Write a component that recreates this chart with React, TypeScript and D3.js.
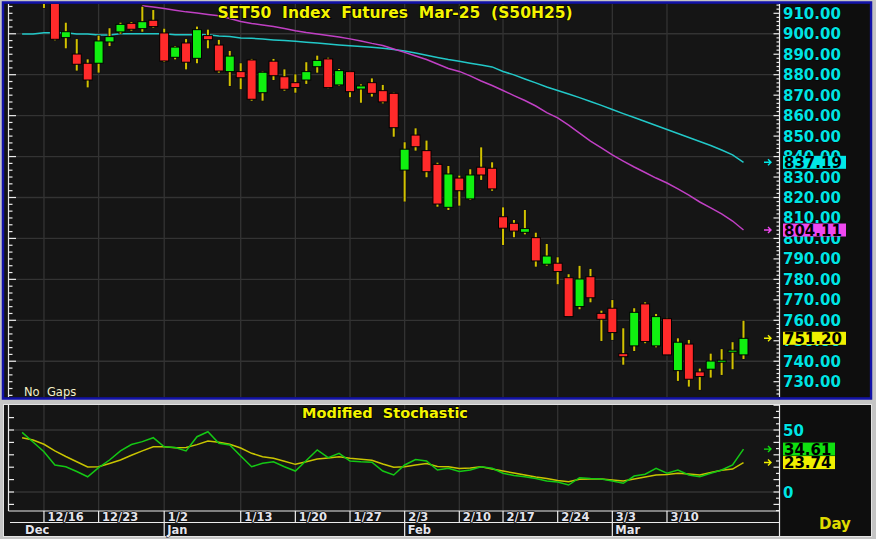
import React, { useEffect, useRef } from 'react';
import * as d3 from 'd3';

// trading days shown on the chart (first two only carry indicator values)
const days = [
  '12/12', '12/13', '12/16', '12/17', '12/18', '12/19', '12/20', '12/23', '12/24', '12/25', '12/26', '12/27', '12/30',
  '1/2', '1/3', '1/6', '1/7', '1/8', '1/9', '1/10', '1/13', '1/14', '1/15', '1/16', '1/17', '1/20', '1/21', '1/22',
  '1/23', '1/24', '1/27', '1/28', '1/29', '1/30', '1/31', '2/3', '2/4', '2/5', '2/6', '2/7', '2/10', '2/11', '2/13',
  '2/14', '2/17', '2/18', '2/19', '2/20', '2/21', '2/24', '2/25', '2/26', '2/27', '2/28', '3/3', '3/4', '3/5', '3/6',
  '3/7', '3/10', '3/11', '3/12', '3/13', '3/14', '3/17', '3/18', '3/19',
];
const candleDays = days.slice(2);

const opens = [
  920, 915, 898.1, 890.1, 885.6, 885.6, 896, 900.9, 905.1, 902.5, 906.6, 900.4, 888.5, 895.5, 888, 899.1, 894.5,
  881.5, 881.5, 887.2, 871.2, 886.6, 879, 876.1, 877.4, 883.9, 887.7, 875, 881.5, 873, 876.1, 872.2, 870.9, 833.4,
  850.5, 842.9, 836.2, 815.2, 829.5, 819.3, 834.8, 834.3, 810.6, 807.4, 803, 800.4, 787.4, 787.9, 780.8, 766.7,
  781.3, 763.4, 765.9, 743.7, 747.5, 768, 747.5, 760.8, 735.4, 748.4, 734.8, 736.1, 740.1, 745, 743.1,
];
const highs = [
  926, 918, 905.4, 897.4, 887.5, 899.1, 902.7, 905.4, 905.7, 913.2, 911.6, 902.5, 894, 897.4, 903.5, 902, 897,
  891.6, 885.6, 887.7, 881.5, 887.7, 882.6, 880.2, 886.1, 889.3, 888.3, 882.8, 881.8, 875.3, 878.2, 875, 871.2, 847,
  853.8, 847.8, 837, 835.4, 830.7, 833.8, 844.5, 837.2, 815.2, 809, 813.9, 802.8, 797.3, 790.8, 782.5, 786.6,
  785.1, 764.7, 769.9, 756.1, 765.9, 768.8, 763.1, 761.2, 751.2, 750.4, 736.4, 743.7, 745.9, 749.3, 759.8,
];
const lows = [
  912.6, 896.8, 892.9, 882, 873.8, 881, 894, 900, 901.5, 901, 903, 886.2, 887.5, 882.6, 885.6, 892.9, 881, 874.5,
  872.9, 867.3, 867.3, 877.4, 872.2, 871.2, 875.5, 881, 873.4, 874.6, 869, 866.3, 869.3, 866, 849.7, 818, 842.9,
  829.9, 815.5, 813.9, 816, 818.8, 828.6, 823.3, 796.8, 800.6, 802, 786.2, 786.7, 777.6, 761.8, 765.4, 768.8, 749.9,
  750.4, 738.3, 745, 748.8, 746.8, 743.1, 730.4, 727.6, 726, 732, 733.3, 736.1, 741.1,
];
const closes = [
  916, 897.3, 901, 885.1, 877.4, 896.5, 898.6, 904.6, 902.2, 905.9, 903.5, 886.7, 893.5, 886.1, 902, 897.1, 881.8,
  889.1, 878.5, 868, 881.2, 879.5, 872.9, 873.7, 881.5, 887, 873.7, 882, 871.7, 874.5, 870.9, 866.7, 854.1, 843.6,
  844.8, 832.6, 816.8, 831.5, 823.3, 831, 831, 824.2, 805, 803.6, 804.8, 789, 791.4, 783.8, 761.8, 780.2, 771, 760.5,
  754, 742.2, 763.9, 749.6, 761.8, 743.1, 749.3, 731.2, 732.5, 740.1, 740.5, 745.4, 751.2,
];

// moving averages (one value per entry of days)
const maSlow = [
  899.9, 899.9, 900.5, 900.5, 900.5, 899.9, 899.9, 899.4, 899.4, 900.0, 900.0, 900.0, 900.0, 900.0, 899.5, 899.5,
  899.5, 899.5, 898.9, 898.7, 897.9, 897.8, 897.4, 897.0, 896.7, 896.3, 895.9, 895.5, 895.0, 894.5, 894.1, 893.8,
  893.4, 892.9, 892.3, 891.6, 890.6, 889.5, 888.4, 887.4, 886.6, 885.6, 884.7, 883.8, 881.6, 879.9, 877.9, 876.0,
  874.0, 872.3, 870.6, 868.8, 866.9, 865.0, 863.0, 861.0, 859.1, 857.1, 855.2, 853.2, 851.3, 849.3, 847.4, 845.4,
  843.2, 840.8, 837.19,
];
const maFast: (number | null)[] = [
  null, null, null, null, null, null, null, null, null, null, null,
  913.7, 913.1, 912.3, 911.5, 910.7, 910.1, 909.4, 908.8, 907.5, 906.0, 905.0, 904.3, 903.6, 902.6, 901.5, 900.6,
  899.9, 899.2, 898.4, 897.5, 896.5, 895.3, 894.3, 892.6, 890.9, 889.1, 887.4, 885.2, 883.0, 881.6, 879.4, 876.9,
  874.7, 872.3, 869.8, 867.4, 864.7, 861.5, 858.9, 855.4, 851.5, 847.6, 844.2, 840.8, 837.8, 834.9, 832.2, 829.5,
  827.1, 824.2, 821.2, 817.8, 814.9, 812.0, 808.5, 804.11,
];

// modified stochastic
const stochK = [
  48.1, 40.3, 32.5, 21.8, 20.4, 16.5, 12.3, 19.6, 25.8, 33.1, 38.3, 40.6, 43.8, 36.5, 35.9, 33.1, 44.6, 48.6, 39.3,
  37.9, 29.0, 20.4, 23.1, 24.4, 20.4, 16.9, 25.4, 33.9, 27.7, 31.2, 25.0, 24.4, 24.0, 16.9, 13.7, 21.8, 26.2, 25.0,
  17.7, 19.1, 16.5, 17.7, 20.4, 19.1, 15.1, 13.3, 12.3, 10.9, 8.9, 8.1, 5.6, 11.5, 10.9, 10.5, 8.9, 7.0, 12.9, 14.3,
  19.1, 15.1, 17.7, 13.7, 12.3, 15.1, 17.7, 21.8, 34.61,
];
const stochD = [
  43.8, 41.9, 38.5, 33.1, 28.6, 24.4, 20.2, 20.4, 23.0, 25.8, 29.6, 33.2, 36.5, 36.5, 35.7, 35.9, 38.2, 41.1, 40.2,
  38.5, 35.5, 31.2, 28.5, 27.2, 24.8, 22.3, 24.4, 26.6, 27.4, 28.4, 27.2, 26.5, 25.6, 22.6, 19.9, 20.4, 21.8, 23.0,
  20.6, 20.4, 19.0, 19.4, 20.4, 18.5, 16.9, 15.3, 13.7, 12.1, 10.9, 9.3, 8.3, 10.2, 10.5, 10.5, 9.7, 8.9, 10.5, 12.1,
  13.7, 14.1, 15.1, 14.5, 13.7, 15.7, 17.5, 18.5, 23.74,
];

const weekTicks = ['12/16', '12/23', '1/2', '1/13', '1/20', '1/27', '2/3', '2/10', '2/17', '2/24', '3/3', '3/10'];
const monthTicks = [
  { day: '12/12', label: 'Dec', sep: false },
  { day: '1/2', label: 'Jan', sep: true },
  { day: '2/3', label: 'Feb', sep: true },
  { day: '3/3', label: 'Mar', sep: true },
];
const priceLabels = d3.range(730, 911, 10);
const priceGrid = d3.range(740, 901, 20);

const FONT = '"DejaVu Sans", Verdana, sans-serif';

const App: React.FC = () => {
  const svgRef = useRef<SVGSVGElement>(null);

  useEffect(() => {
    if (!svgRef.current) return;
    const svg = d3.select(svgRef.current);
    svg.selectAll('*').remove();

    const left = 9;
    const right = 779.5;
    const mainTop = 4;
    const mainBottom = 397;
    const subTop = 405;
    const subBottom = 511;

    const x = d3.scalePoint<string>().domain(days).range([22.1, 743.5]);
    const y = d3.scaleLinear().domain([730, 910]).range([381.7, 13.3]);
    const ys = d3.scaleLinear().domain([0, 50]).range([492, 430]);

    const defs = svg.append('defs');
    defs.append('clipPath').attr('id', 'clipMain')
      .append('rect').attr('x', left).attr('y', mainTop).attr('width', right - left).attr('height', mainBottom - mainTop);
    defs.append('clipPath').attr('id', 'clipSub')
      .append('rect').attr('x', left).attr('y', subTop).attr('width', right - left).attr('height', subBottom - subTop);

    // frame
    svg.append('rect').attr('width', 876).attr('height', 539).attr('fill', '#c4c4c4');
    svg.append('rect').attr('x', 3).attr('y', 2.5).attr('width', 868).attr('height', 396)
      .attr('fill', '#151515').attr('stroke', '#1212a8').attr('stroke-width', 2.5);
    svg.append('rect').attr('x', right + 1).attr('y', 4).attr('width', 89).attr('height', 393).attr('fill', '#0e0e0e');
    svg.append('rect').attr('x', 3.5).attr('y', 404.5).attr('width', 868).attr('height', 132)
      .attr('fill', '#151515').attr('stroke', '#e4e4e4').attr('stroke-width', 1);
    svg.append('rect').attr('x', right + 1).attr('y', 405).attr('width', 90).attr('height', 131).attr('fill', '#0e0e0e');

    // grid
    const grid = svg.append('g').attr('stroke', '#333').attr('stroke-width', 1.3);
    priceGrid.forEach(v => {
      grid.append('line').attr('x1', left).attr('x2', right).attr('y1', y(v)).attr('y2', y(v));
    });
    [0, 50].forEach(v => {
      grid.append('line').attr('x1', left).attr('x2', right).attr('y1', ys(v)).attr('y2', ys(v));
    });
    weekTicks.forEach(d => {
      const xx = x(d)!;
      grid.append('line').attr('x1', xx).attr('x2', xx).attr('y1', mainTop).attr('y2', mainBottom);
      grid.append('line').attr('x1', xx).attr('x2', xx).attr('y1', subTop).attr('y2', subBottom);
    });

    // moving averages
    const main = svg.append('g').attr('clip-path', 'url(#clipMain)');
    const maLine = d3.line<number | null>()
      .defined(d => d != null)
      .x((_, i) => x(days[i])!)
      .y(d => y(d as number));
    main.append('path').datum(maSlow).attr('fill', 'none').attr('stroke', '#22c8c8').attr('stroke-width', 1.5).attr('d', maLine);
    main.append('path').datum(maFast).attr('fill', 'none').attr('stroke', '#c040c4').attr('stroke-width', 1.5).attr('d', maLine);

    // candles
    candleDays.forEach((d, i) => {
      const cx = x(d)!;
      const up = closes[i] >= opens[i];
      main.append('rect')
        .attr('x', cx - 2).attr('width', 4)
        .attr('y', y(highs[i]) - 0.5).attr('height', y(lows[i]) - y(highs[i]) + 1)
        .attr('fill', '#111');
      main.append('rect')
        .attr('x', cx - 1).attr('width', 2)
        .attr('y', y(highs[i])).attr('height', y(lows[i]) - y(highs[i]))
        .attr('fill', '#d2c200');
      const top = y(Math.max(opens[i], closes[i]));
      const h = Math.max(2, y(Math.min(opens[i], closes[i])) - top);
      main.append('rect')
        .attr('x', cx - 4.5).attr('width', 9)
        .attr('y', top).attr('height', h)
        .attr('fill', up ? '#10f010' : '#ff2a2a')
        .attr('stroke', '#000').attr('stroke-width', 1);
    });

    // stochastic lines
    const sub = svg.append('g').attr('clip-path', 'url(#clipSub)');
    const stLine = d3.line<number>().x((_, i) => x(days[i])!).y(d => ys(d));
    sub.append('path').datum(stochD).attr('fill', 'none').attr('stroke', '#c8c400').attr('stroke-width', 1.5).attr('d', stLine);
    sub.append('path').datum(stochK).attr('fill', 'none').attr('stroke', '#14c814').attr('stroke-width', 1.5).attr('d', stLine);

    // axes
    const ax = svg.append('g').attr('stroke', '#ececec').attr('stroke-width', 1.2);
    ax.append('line').attr('x1', 8.5).attr('x2', 8.5).attr('y1', mainTop).attr('y2', mainBottom);
    ax.append('line').attr('x1', right).attr('x2', right).attr('y1', mainTop).attr('y2', mainBottom);
    const leftStep = (y(880) - y(900)) / 6;
    for (let k = -4; k <= 53; k++) {
      const yy = y(900) + k * leftStep;
      if (yy < mainTop || yy > mainBottom) continue;
      ax.append('line').attr('x1', 8.5).attr('x2', k % 6 === 0 ? 16 : 12.5).attr('y1', yy).attr('y2', yy);
    }
    for (let v = 724; v <= 914; v += 2) {
      const yy = y(v);
      ax.append('line').attr('x1', v % 10 === 0 ? right - 6 : right - 3).attr('x2', right).attr('y1', yy).attr('y2', yy);
    }
    ax.append('line').attr('x1', 8.5).attr('x2', 8.5).attr('y1', subTop).attr('y2', subBottom);
    ax.append('line').attr('x1', right).attr('x2', right).attr('y1', subTop).attr('y2', 536);
    for (let v = -10; v <= 60; v += 10) {
      ax.append('line').attr('x1', 8.5).attr('x2', 14).attr('y1', ys(v)).attr('y2', ys(v));
    }
    for (let v = -15; v <= 70; v += 5) {
      ax.append('line').attr('x1', v % 10 === 0 ? right - 6 : right - 3.5).attr('x2', right).attr('y1', ys(v)).attr('y2', ys(v));
    }

    // date strip
    ax.append('line').attr('x1', 8.5).attr('x2', right).attr('y1', subBottom).attr('y2', subBottom);
    ax.append('line').attr('x1', 10).attr('x2', right).attr('y1', 522.5).attr('y2', 522.5);
    weekTicks.forEach(d => {
      const xx = x(d)!;
      ax.append('line').attr('x1', xx).attr('x2', xx).attr('y1', subBottom).attr('y2', 522.5);
      svg.append('text')
        .attr('x', xx + 3.5).attr('y', 521)
        .attr('font-family', FONT).attr('font-size', '11.5px').attr('font-weight', 'bold')
        .attr('fill', '#e4e4ec').attr('stroke', '#000').attr('stroke-width', 1).attr('paint-order', 'stroke')
        .text(d);
    });
    monthTicks.forEach(m => {
      const xx = x(m.day)!;
      if (m.sep) ax.append('line').attr('x1', xx).attr('x2', xx).attr('y1', 522.5).attr('y2', 536);
      svg.append('text')
        .attr('x', xx + 3).attr('y', 533.5)
        .attr('font-family', FONT).attr('font-size', '11.5px').attr('font-weight', 'bold')
        .attr('fill', '#e4e4ec').attr('stroke', '#000').attr('stroke-width', 1).attr('paint-order', 'stroke')
        .text(m.label);
    });

    // price labels
    const label = (xx: number, yy: number, txt: string, color: string) =>
      svg.append('text')
        .attr('x', xx).attr('y', yy)
        .attr('font-family', FONT).attr('font-size', '15px').attr('font-weight', 'bold')
        .attr('fill', color).attr('stroke', '#000').attr('stroke-width', 1.2).attr('paint-order', 'stroke')
        .text(txt);
    priceLabels.forEach(v => label(783, y(v) + 5.5, v.toFixed(2), '#00e4e4'));
    label(783, ys(50) + 5.5, '50', '#00e4e4');
    label(783, ys(0) + 5.5, '0', '#00e4e4');

    const tag = (yy: number, txt: string, color: string, w: number) => {
      svg.append('path')
        .attr('d', `M764,${yy} L771,${yy} M768,${yy - 3} L771,${yy} L768,${yy + 3}`)
        .attr('fill', 'none').attr('stroke', color).attr('stroke-width', 1.4);
      svg.append('rect').attr('x', 783).attr('y', yy - 6.5).attr('width', w).attr('height', 13).attr('fill', color);
      svg.append('text')
        .attr('x', 784).attr('y', yy + 5.5)
        .attr('font-family', FONT).attr('font-size', '15px').attr('font-weight', 'bold')
        .attr('fill', '#000')
        .text(txt);
    };
    const last = closes.length - 1;
    tag(y(maSlow[maSlow.length - 1]), maSlow[maSlow.length - 1].toFixed(2), '#00e8e8', 63);
    tag(y(maFast[maFast.length - 1] as number), (maFast[maFast.length - 1] as number).toFixed(2), '#f048f0', 63);
    tag(y(closes[last]), closes[last].toFixed(2), '#f0f000', 63);
    tag(ys(stochK[stochK.length - 1]), stochK[stochK.length - 1].toFixed(2), '#10e010', 52);
    tag(ys(stochD[stochD.length - 1]), stochD[stochD.length - 1].toFixed(2), '#f0f000', 52);

    // titles
    svg.append('text')
      .attr('x', 395).attr('y', 17.5).attr('text-anchor', 'middle')
      .attr('font-family', FONT).attr('font-size', '15.5px').attr('font-weight', 'bold')
      .attr('fill', '#f4f400').attr('stroke', '#000').attr('stroke-width', 1.5).attr('paint-order', 'stroke')
      .style('white-space', 'pre')
      .text('SET50  Index  Futures  Mar-25  (S50H25)');
    svg.append('text')
      .attr('x', 302).attr('y', 418).attr('font-family', FONT).attr('font-size', '14.5px').attr('font-weight', 'bold')
      .attr('fill', '#f4f400').attr('stroke', '#000').attr('stroke-width', 1.5).attr('paint-order', 'stroke')
      .style('white-space', 'pre')
      .text('Modified  Stochastic');
    svg.append('text')
      .attr('x', 24).attr('y', 395.5).attr('font-family', FONT).attr('font-size', '11.5px')
      .attr('fill', '#f4f0c8').style('white-space', 'pre')
      .text('No  Gaps');
    svg.append('text')
      .attr('x', 819).attr('y', 528.5).attr('font-family', FONT).attr('font-size', '15px').attr('font-weight', 'bold')
      .attr('fill', '#e0dc00')
      .text('Day');
  }, []);

  return (
    <svg
      ref={svgRef}
      width={876}
      height={539}
      style={{ position: 'absolute', left: 0, top: 0, display: 'block' }}
    />
  );
};

export default App;
